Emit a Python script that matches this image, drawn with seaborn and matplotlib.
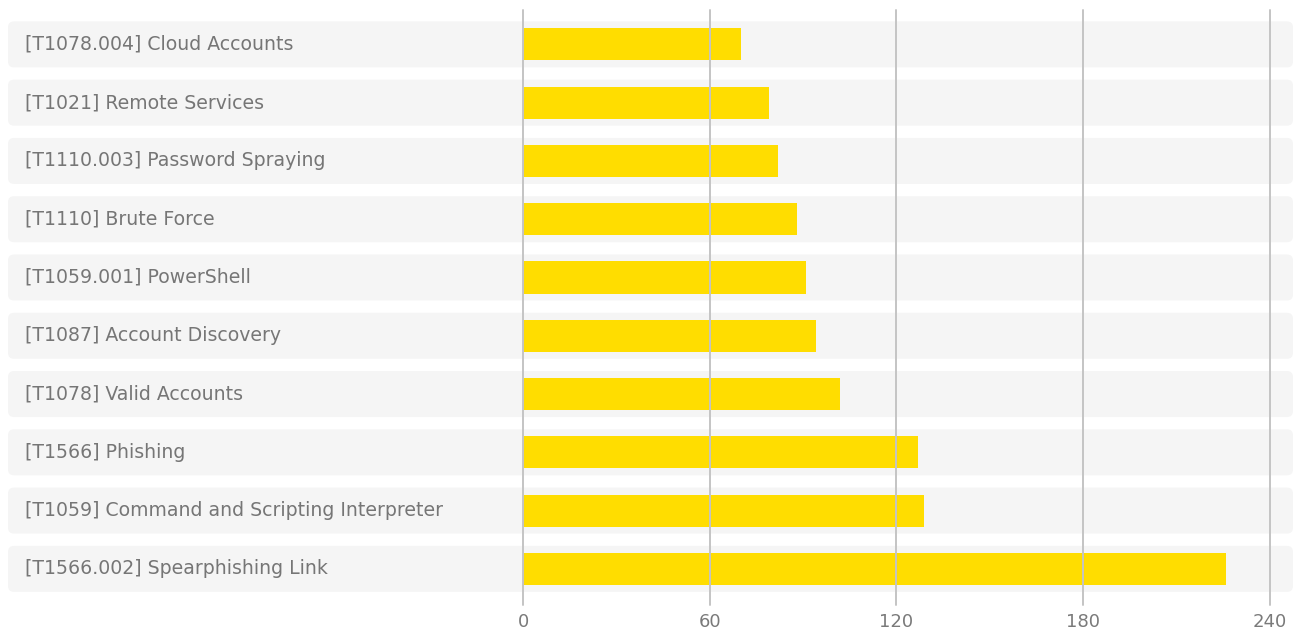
import numpy as np
import pandas as pd
import matplotlib
matplotlib.use("Agg")
import matplotlib.pyplot as plt
import seaborn as sns
from matplotlib.patches import FancyBboxPatch

techniques = [
    "[T1078.004] Cloud Accounts",
    "[T1021] Remote Services",
    "[T1110.003] Password Spraying",
    "[T1110] Brute Force",
    "[T1059.001] PowerShell",
    "[T1087] Account Discovery",
    "[T1078] Valid Accounts",
    "[T1566] Phishing",
    "[T1059] Command and Scripting Interpreter",
    "[T1566.002] Spearphishing Link",
]
counts = [70, 79, 82, 88, 91, 94, 102, 127, 129, 226]
x_ticks = [0, 60, 120, 180, 240]

df = pd.DataFrame({"technique": techniques, "count": counts})

sns.set_theme(style="white")
plt.rcParams["font.family"] = ["DejaVu Sans"]

W, H, DPI = 1296, 630, 100
fig = plt.figure(figsize=(W / DPI, H / DPI), dpi=DPI)
ax = fig.add_axes([523.2 / W, 1 - 605 / H, (1269.6 - 523.2) / W, (605 - 10) / H])

sns.barplot(data=df, y="technique", x="count", orient="h", color="#FFDD00",
            saturation=1, width=0.55, linewidth=0, ax=ax, zorder=2)

ax.set_xlim(0, 240)
ax.set_ylim(len(techniques) - 1 + 0.62, -0.59)
ax.set_xticks(x_ticks)
ax.set_xticklabels([str(t) for t in x_ticks], color="#7a7a7a", fontsize=13)
ax.tick_params(axis="x", length=0, pad=6)
ax.set_yticks([])
ax.set_xlabel("")
ax.set_ylabel("")
for s in ax.spines.values():
    s.set_visible(False)
ax.patch.set_alpha(0)
for t in x_ticks:
    ax.axvline(t, color="#c4c4c4", linewidth=1.4, zorder=3, clip_on=False)

# row backgrounds and labels spanning the whole figure width
fig.canvas.draw()
bg_ax = fig.add_axes([0, 0, 1, 1], zorder=-1)
bg_ax.set_xlim(0, W)
bg_ax.set_ylim(0, H)
bg_ax.axis("off")
row_h = 46
for i, name in enumerate(techniques):
    _, yc = ax.transData.transform((0, i))
    bg_ax.add_patch(FancyBboxPatch((8, yc - row_h / 2), 1285, row_h,
                                   boxstyle="round,pad=0,rounding_size=6",
                                   facecolor="#f5f5f5", edgecolor="none"))
    bg_ax.text(25, yc, name, ha="left", va="center", fontsize=13.6,
               color="#767676")

fig.savefig("out.png", dpi=DPI)
